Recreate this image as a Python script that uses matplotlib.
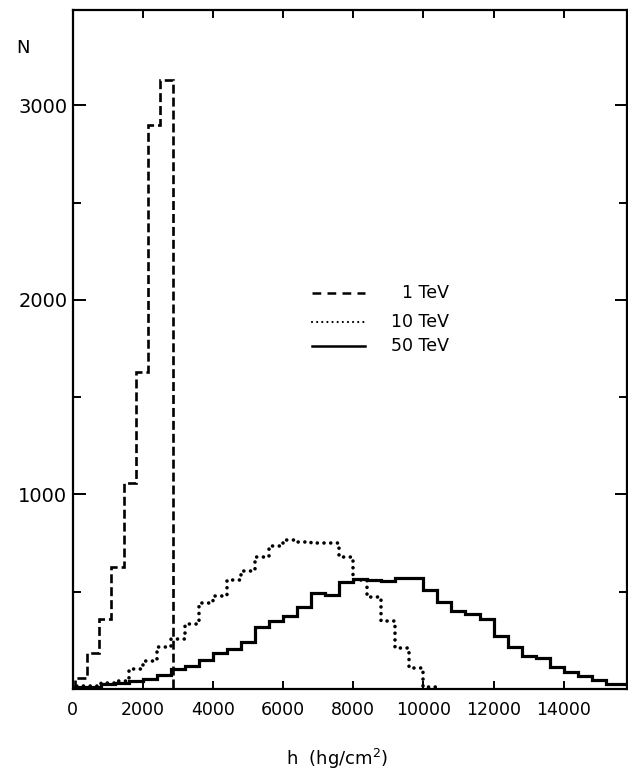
import matplotlib
matplotlib.use("Agg")
import matplotlib.pyplot as plt
from matplotlib.ticker import FixedLocator

# ---- data ----
edges_1tev = [50, 400, 750, 1100, 1450, 1800, 2150, 2500, 2850]
n_1tev = [55, 183, 360, 627, 1060, 1629, 2898, 3130]

edges_10tev = [0, 400, 800, 1200, 1600, 2000, 2400, 2800, 3200, 3600, 4000,
               4400, 4800, 5200, 5600, 6000, 6400, 6800, 7200, 7600, 8000,
               8400, 8800, 9200, 9600, 10000, 10400]
n_10tev = [15, 15, 30, 41, 105, 145, 216, 255, 332, 440, 478, 560, 608,
           678, 735, 766, 757, 752, 748, 678, 560, 473, 349, 210, 108, 8]

edges_50tev = [0, 400, 800, 1200, 1600, 2000, 2400, 2800, 3200, 3600, 4000,
               4400, 4800, 5200, 5600, 6000, 6400, 6800, 7200, 7600, 8000,
               8400, 8800, 9200, 9600, 10000, 10400, 10800, 11200, 11600,
               12000, 12400, 12800, 13200, 13600, 14000, 14400, 14800, 15200,
               15600, 16000]
n_50tev = [8, 10, 25, 32, 40, 50, 72, 103, 118, 149, 185, 208, 240, 319,
           349, 375, 421, 493, 483, 550, 565, 560, 555, 570, 572, 509, 447,
           401, 385, 360, 272, 216, 170, 159, 113, 87, 67, 46, 26, 26]

labels = ["\u20071 TeV", "10 TeV", "50 TeV"]
x_ticks = [0, 2000, 4000, 6000, 8000, 10000, 12000, 14000]
y_ticks = [1000, 2000, 3000]
y_minor = [500, 1500, 2500]

# ---- figure ----
fig = plt.figure(figsize=(6.28, 7.73), dpi=100)
ax = fig.add_axes([0.116, 0.1087, 0.882, 0.8783])

dash_style = (0, (3.4, 1.5))
dot_style = (0, (0.01, 1.85))

ax.stairs(n_1tev, edges_1tev, baseline=0, color="black", lw=1.9,
          linestyle=dash_style)
ax.stairs(n_10tev, edges_10tev, baseline=0, color="black", lw=2.6,
          linestyle=dot_style, capstyle="round")
ax.stairs(n_50tev, edges_50tev, baseline=0, color="black", lw=2.3)

ax.set_xlim(0, 15800)
ax.set_ylim(0, 3490)

ax.xaxis.set_major_locator(FixedLocator(x_ticks))
ax.yaxis.set_major_locator(FixedLocator(y_ticks))
ax.yaxis.set_minor_locator(FixedLocator(y_minor))
ax.set_xticklabels([str(v) for v in x_ticks], fontsize=12.5)
ax.set_yticklabels([str(v) for v in y_ticks], fontsize=14)

ax.tick_params(axis="both", which="both", direction="in", top=True,
               right=True, width=1.4, color="black")
ax.tick_params(axis="y", which="major", length=9, pad=4)
ax.tick_params(axis="y", which="minor", length=6)
ax.tick_params(axis="x", which="major", length=6, pad=9)

for sp in ax.spines.values():
    sp.set_linewidth(1.6)
    sp.set_color("black")

ax.set_xlabel("h  (hg/cm$^2$)", fontsize=13, labelpad=17)
ax.xaxis.set_label_coords(0.478, -0.085)
fig.text(23 / 628, 1 - 48 / 773, "N", fontsize=13, ha="center", va="center")

# ---- legend drawn by hand ----
styles = [dict(lw=1.8, linestyle=(0, (3.5, 2.5))),
          dict(lw=1.6, linestyle=(0, (0.01, 2.3)), dash_capstyle="round"),
          dict(lw=1.8, linestyle="-")]
leg_y = [0.583, 0.5405, 0.505]
for lab, st, yy in zip(labels, styles, leg_y):
    ax.plot([0.431, 0.527], [yy, yy], transform=ax.transAxes,
            color="black", **st)
    ax.text(0.680, yy, lab, transform=ax.transAxes, ha="right",
            va="center", fontsize=12.5)

fig.savefig("out.png", dpi=100, facecolor="white")
